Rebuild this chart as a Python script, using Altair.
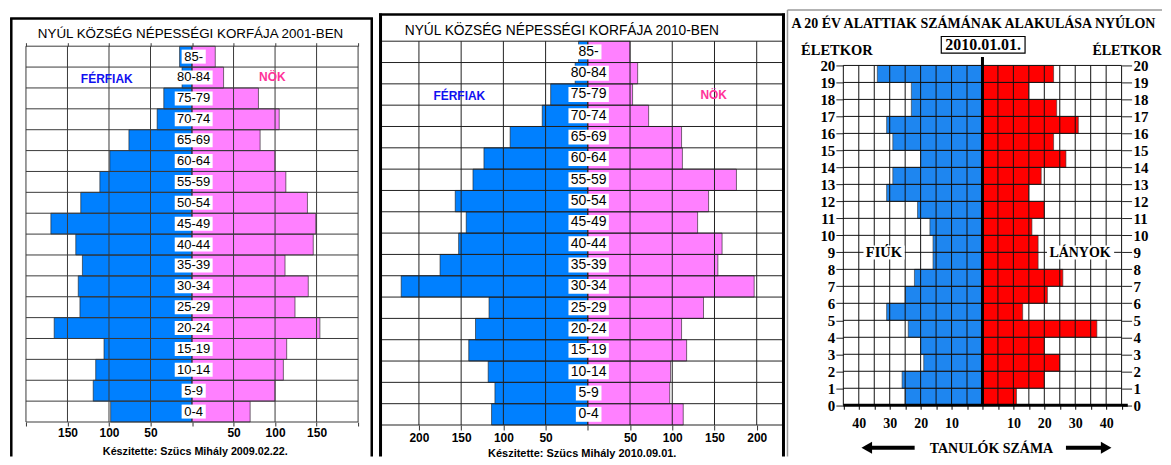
import altair as alt
import pandas as pd

# ---------------- data ----------------
age_groups = ["0-4", "5-9", "10-14", "15-19", "20-24", "25-29", "30-34", "35-39", "40-44",
              "45-49", "50-54", "55-59", "60-64", "65-69", "70-74", "75-79", "80-84", "85-"]
male_2001 = [98, 119, 116, 106, 166, 135, 137, 132, 140, 170, 134, 111, 99, 76, 42, 34, 12, 15]
female_2001 = [70, 100, 110, 114, 154, 124, 140, 112, 146, 149, 139, 113, 100, 82, 105, 80, 38, 28]
male_2010 = [114, 110, 118, 141, 133, 117, 221, 175, 153, 144, 157, 136, 123, 92, 54, 44, 15, 11]
female_2010 = [113, 97, 98, 117, 111, 137, 197, 154, 159, 130, 143, 176, 112, 111, 72, 53, 59, 50]
x_ticks_pyr = [-200, -150, -100, -50, 0, 50, 100, 150, 200]
x_labels_2001 = [50, 100, 150]
x_labels_2010 = [50, 100, 150, 200]

ages_u20 = list(range(20))
boys_2010 = [25, 26, 19, 20, 24, 31, 25, 22, 16, 16, 17, 21, 31, 29, 20, 29, 31, 23, 23, 34]
girls_2010 = [11, 20, 25, 20, 37, 13, 21, 26, 18, 18, 16, 20, 15, 19, 27, 23, 31, 24, 15, 23]
y_ticks_u20 = list(range(21))
x_ticks_u20 = [-45, -40, -35, -30, -25, -20, -15, -10, -5, 0, 5, 10, 15, 20, 25, 30, 35, 40, 45]
x_labels_u20 = [10, 20, 30, 40]

# ---------------- layout helpers ----------------
W, H = 1155, 449
OX = OY = 8
SANS = "Liberation Sans"
SERIF = "Liberation Serif"
BLUE = "#0080FF"
PINK = "#FF80FF"
BLUE3 = "#1E86F0"
RED3 = "#FF0000"


def px(x):
    return x - OX


def py(y):
    return y - OY


def one():
    return alt.Chart(pd.DataFrame({"a": [0]}))


def note(text, x, y, size, font=SANS, weight="normal", color="black", align="center"):
    return alt.Chart(pd.DataFrame({"t": [text]})).mark_text(
        font=font, fontSize=size, fontWeight=weight, color=color, align=align, baseline="middle"
    ).encode(text="t:N", x=alt.value(px(x)), y=alt.value(py(y)))


def vline(x, y1, y2, color, w):
    return one().mark_rule(color=color, strokeWidth=w).encode(
        x=alt.value(px(x)), y=alt.value(py(y1)), y2=alt.value(py(y2)))


def hline(x1, x2, y, color, w):
    return one().mark_rule(color=color, strokeWidth=w).encode(
        x=alt.value(px(x1)), x2=alt.value(px(x2)), y=alt.value(py(y)))


def box(x1, x2, y1, y2, stroke=None, sw=0):
    kw = dict(fill="white")
    if stroke:
        kw.update(stroke=stroke, strokeWidth=sw)
    return one().mark_rect(**kw).encode(
        x=alt.value(px(x1)), x2=alt.value(px(x2)), y=alt.value(py(y1)), y2=alt.value(py(y2)))


def lab_expr(labeled):
    arr = "[" + ",".join(str(v) for v in labeled) + "]"
    return f"indexof({arr}, abs(datum.value)) >= 0 ? '' + abs(datum.value) : ''"


def pyramid(male, female, sx, sy, xdom, labeled, bottom_y, top_y, tick_size, lab_pad,
            age_font, age_dx, box_k, box_c, box_h, pxu, grid_color, top_ticks):
    n = len(age_groups)
    df = pd.DataFrame({"age": age_groups, "idx": list(range(n)), "male": male, "female": female})
    base = alt.Chart(df)
    xaxis = alt.Axis(orient="bottom", offset=bottom_y - H, values=x_ticks_pyr,
                     labelExpr=lab_expr(labeled), grid=False, domain=False, ticks=True,
                     tickSize=tick_size, tickColor="#333", tickWidth=1, labelFont=SANS,
                     labelFontSize=12, labelFontWeight="bold", labelColor="black",
                     labelPadding=lab_pad, title=None, labelFlush=False, labelOverlap=False)
    males = base.transform_calculate(neg="-datum.male", top="datum.idx + 1").mark_rect(
        color=BLUE, stroke="#1a1a1a", strokeWidth=0.6).encode(
        x=alt.X("neg:Q", scale=sx, axis=xaxis), x2=alt.X2(datum=0),
        y=alt.Y("idx:Q", scale=sy, axis=None), y2="top:Q")
    females = base.transform_calculate(top="datum.idx + 1").mark_rect(
        color=PINK, stroke="#1a1a1a", strokeWidth=0.6).encode(
        x=alt.X("female:Q", scale=sx, axis=None), x2=alt.X2(datum=0),
        y=alt.Y("idx:Q", scale=sy, axis=None), y2="top:Q")
    if top_ticks > 0:
        topaxis = alt.Axis(orient="top", offset=-top_y, values=x_ticks_pyr, labels=False,
                           grid=False, domain=False, ticks=True, tickSize=top_ticks,
                           tickColor=grid_color, tickWidth=1, title=None)
    else:
        topaxis = None
    vgrid = alt.Chart(pd.DataFrame({"v": x_ticks_pyr})).mark_rule(color=grid_color, strokeWidth=1).encode(
        x=alt.X("v:Q", scale=sx, axis=topaxis),
        y=alt.Y(datum=0, type="quantitative", scale=sy, axis=None), y2=alt.Y2(datum=n))
    hgrid = alt.Chart(pd.DataFrame({"h": list(range(n + 1))})).mark_rule(color=grid_color, strokeWidth=1).encode(
        y=alt.Y("h:Q", scale=sy, axis=None),
        x=alt.X(datum=xdom[0], type="quantitative", scale=sx, axis=None), x2=alt.X2(datum=xdom[1]))
    boxes = base.transform_calculate(
        hw=f"(length(datum.age) * {box_k} + {box_c}) / 2 / {pxu}",
        bx1=f"{age_dx} - datum.hw", bx2=f"{age_dx} + datum.hw",
        by1=f"datum.idx + 0.5 - {box_h}", by2=f"datum.idx + 0.5 + {box_h}").mark_rect(color="white").encode(
        x=alt.X("bx1:Q", scale=sx, axis=None), x2="bx2:Q",
        y=alt.Y("by1:Q", scale=sy, axis=None), y2="by2:Q")
    texts = base.transform_calculate(cy="datum.idx + 0.5").mark_text(
        font=SANS, fontSize=age_font, color="black").encode(
        x=alt.X(datum=age_dx, type="quantitative", scale=sx, axis=None),
        y=alt.Y("cy:Q", scale=sy, axis=None), text="age:N")
    return [males, females, vgrid, hgrid, boxes, texts]


# ---------------- panel 1 (2001) ----------------
dom1 = [-200, 200]
sx1 = alt.Scale(domain=dom1, range=[px(24), px(357)], nice=False, zero=False)
sy1 = alt.Scale(domain=[0, 18], range=[py(422.5), py(45.7)], nice=False, zero=False)
p1 = pyramid(male_2001, female_2001, sx1, sy1, dom1, x_labels_2001, py(422.5), py(45.7), 4, 1.5,
             13, 2, 6.9, 3.5, 0.335, 0.8325, "#3a3a3a", 3.5)
p1 += [
    note("NYÚL KÖZSÉG NÉPESSÉGI KORFÁJA 2001-BEN", 189, 33.3, 13.4),
    note("FÉRFIAK", 105, 78.3, 12, weight="bold", color="#1010F0"),
    note("NÖK", 271, 76.7, 12, weight="bold", color="#FF3399"),
    note("Készitette: Szücs Mihály  2009.02.22.", 193.8, 453, 10.8, weight="bold"),
    vline(9.3, 17.8, 457, "black", 2.5),
    vline(370.7, 17.8, 457, "black", 2.5),
    hline(8.1, 371.9, 18, "black", 2.5),
]

# ---------------- panel 2 (2010) ----------------
dom2 = [-243.7, 232.3]
sx2 = alt.Scale(domain=dom2, range=[px(381), px(784)], nice=False, zero=False)
sy2 = alt.Scale(domain=[0, 18], range=[py(425.5), py(40.7)], nice=False, zero=False)
p2 = pyramid(male_2010, female_2010, sx2, sy2, dom2, x_labels_2010, py(425.5), py(40.7), 5, 2.3,
             14, 1, 7.4, 3.5, 0.35, 0.8467, "#222", 0)
p2 += [
    note("NYÚL KÖZSÉG NÉPESSÉGI KORFÁJA 2010-BEN", 561.3, 30, 13.8),
    note("FÉRFIAK", 458.5, 96, 12, weight="bold", color="#1010F0"),
    note("NÖK", 713.5, 95, 12, weight="bold", color="#FF3399"),
    note("Készitette: Szücs Mihály  2010.09.01.", 581.7, 455, 11, weight="bold"),
    vline(379.5, 13, 457, "black", 3),
    vline(783.5, 13, 457, "black", 3),
    hline(378, 785, 14, "black", 2.5),
]

# ---------------- panel 3 (under 20) ----------------
dom3 = [-45, 45]
sx3 = alt.Scale(domain=dom3, range=[px(843.5), px(1122.5)], nice=False, zero=False)
sy3 = alt.Scale(domain=[0, 20], range=[py(405.7), py(65)], nice=False, zero=False)
df3 = pd.DataFrame({"age": ages_u20, "boys": boys_2010, "girls": girls_2010})

x3axis = alt.Axis(orient="bottom", offset=py(405.7) - H, values=x_ticks_u20,
                  labelExpr=lab_expr(x_labels_u20), grid=False, domain=False, ticks=True,
                  tickSize=4, tickColor="black", labelFont=SERIF, labelFontSize=14,
                  labelFontWeight="bold", labelColor="black", labelPadding=7, title=None,
                  labelFlush=False, labelOverlap=False)
yleft = alt.Axis(orient="left", offset=-px(843.5), values=y_ticks_u20, grid=False, domain=False,
                 tickSize=7.5, tickColor="#222", labelFont=SERIF, labelFontSize=15,
                 labelFontWeight="bold", labelColor="black", labelPadding=1, title=None,
                 labelFlush=False, labelOverlap=False)
yright = alt.Axis(orient="right", offset=px(1122.5) - W, values=y_ticks_u20, grid=False, domain=False,
                  tickSize=10, tickColor="#222", labelFont=SERIF, labelFontSize=15,
                  labelFontWeight="bold", labelColor="black", labelPadding=1.5, title=None,
                  labelFlush=False, labelOverlap=False)

boys = alt.Chart(df3).transform_calculate(neg="-datum.boys", top="datum.age + 1").mark_rect(
    color=BLUE3, stroke="#333", strokeWidth=0.6).encode(
    x=alt.X("neg:Q", scale=sx3, axis=x3axis), x2=alt.X2(datum=0),
    y=alt.Y("age:Q", scale=sy3, axis=yleft), y2="top:Q")
girls = alt.Chart(df3).transform_calculate(top="datum.age + 1").mark_rect(
    color=RED3, stroke="#333", strokeWidth=0.6).encode(
    x=alt.X("girls:Q", scale=sx3, axis=None), x2=alt.X2(datum=0),
    y=alt.Y("age:Q", scale=sy3, axis=yright), y2="top:Q")
vgrid3 = alt.Chart(pd.DataFrame({"v": x_ticks_u20})).mark_rule(color="#111", strokeWidth=1).encode(
    x=alt.X("v:Q", scale=sx3, axis=None),
    y=alt.Y(datum=0, type="quantitative", scale=sy3, axis=None), y2=alt.Y2(datum=20))
hgrid3 = alt.Chart(pd.DataFrame({"h": y_ticks_u20})).mark_rule(color="#111", strokeWidth=1).encode(
    y=alt.Y("h:Q", scale=sy3, axis=None),
    x=alt.X(datum=-45, type="quantitative", scale=sx3, axis=None), x2=alt.X2(datum=45))
center3 = one().mark_rule(color="black", strokeWidth=3).encode(
    x=alt.X(datum=0, type="quantitative", scale=sx3, axis=None),
    y=alt.Y(datum=0, type="quantitative", scale=sy3, axis=None), y2=alt.Y2(datum=20.5))
base3 = one().mark_rule(color="black", strokeWidth=3).encode(
    y=alt.Y(datum=0, type="quantitative", scale=sy3, axis=None),
    x=alt.X(datum=-45, type="quantitative", scale=sx3, axis=None), x2=alt.X2(datum=47))

arrow_l_line = one().mark_rule(color="black", strokeWidth=4).encode(
    x=alt.value(px(866)), x2=alt.value(px(915)), y=alt.value(py(448.3)))
arrow_l_head = one().mark_point(shape="triangle-left", filled=True, color="black", size=150, opacity=1).encode(
    x=alt.value(px(867)), y=alt.value(py(448.3)))
arrow_r_line = one().mark_rule(color="black", strokeWidth=4).encode(
    x=alt.value(px(1066.7)), x2=alt.value(px(1108)), y=alt.value(py(448.3)))
arrow_r_head = one().mark_point(shape="triangle-right", filled=True, color="black", size=150, opacity=1).encode(
    x=alt.value(px(1107)), y=alt.value(py(448.3)))

p3 = [
    boys, girls, vgrid3, hgrid3, center3, base3,
    vline(787.5, 9.5, 457, "#9a9a9a", 1.5),
    hline(787.5, 1163, 9.5, "#9a9a9a", 1.5),
    note("A 20 ÉV ALATTIAK SZÁMÁNAK ALAKULÁSA NYÚLON", 791.5, 23, 14, font=SERIF, weight="bold", align="left"),
    note("ÉLETKOR", 837, 51, 14.5, font=SERIF, weight="bold"),
    note("ÉLETKOR", 1162.5, 51, 14, font=SERIF, weight="bold", align="right"),
    box(941.7, 1025.7, 36, 52.7, stroke="black", sw=1.2),
    note("2010.01.01.", 983.7, 44.5, 16, font=SERIF, weight="bold"),
    box(863.7, 905, 245.5, 259.5),
    note("FIÚK", 884.2, 252.7, 14.5, font=SERIF, weight="bold"),
    box(1047.7, 1115, 245.5, 259.5),
    note("LÁNYOK", 1080.8, 252.7, 14, font=SERIF, weight="bold"),
    note("TANULÓK  SZÁMA", 992, 450, 14, font=SERIF, weight="bold"),
    arrow_l_line, arrow_l_head, arrow_r_line, arrow_r_head,
]

chart = alt.layer(*(p1 + p2 + p3)).resolve_scale(
    x="independent", y="independent"
).properties(
    width=W, height=H, padding=0, background="white"
).configure_view(stroke="transparent")

chart.save("out.html", embed_options={"renderer": "svg", "actions": False})
